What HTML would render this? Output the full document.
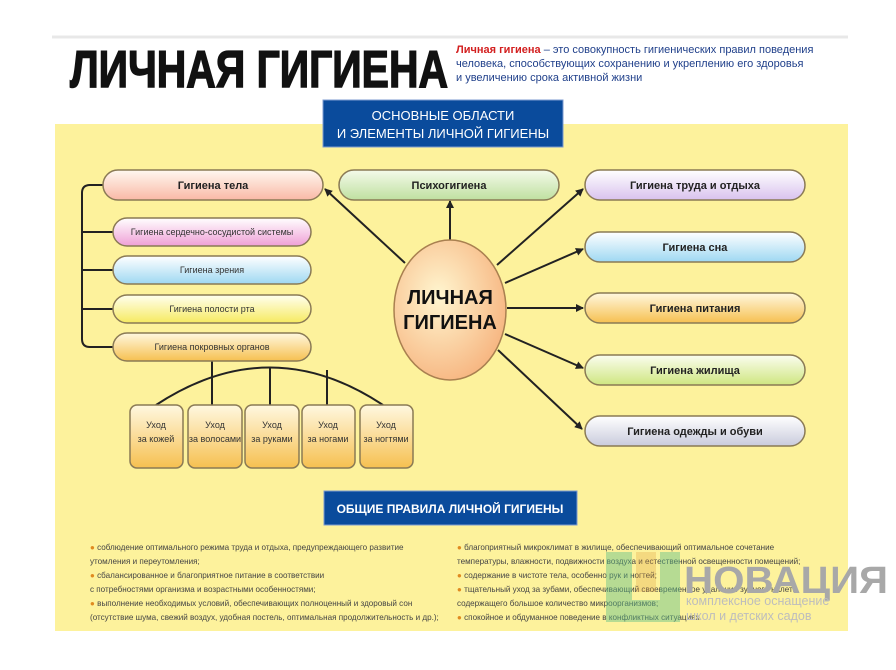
<!DOCTYPE html>
<html><head><meta charset="utf-8"><style>
html,body{margin:0;padding:0;background:#fff;}
svg text{font-family:"Liberation Sans",sans-serif;}
</style></head><body>
<svg width="896" height="665" viewBox="0 0 896 665" xmlns="http://www.w3.org/2000/svg">
<defs>
<linearGradient id="gPink" x1="0" y1="0" x2="0" y2="1"><stop offset="0" stop-color="#fff8f0"/><stop offset="1" stop-color="#f9b9a6"/></linearGradient>
<linearGradient id="gMag" x1="0" y1="0" x2="0" y2="1"><stop offset="0" stop-color="#fff"/><stop offset="1" stop-color="#ef9fd6"/></linearGradient>
<linearGradient id="gBlue" x1="0" y1="0" x2="0" y2="1"><stop offset="0" stop-color="#fff"/><stop offset="1" stop-color="#9ed8f2"/></linearGradient>
<linearGradient id="gYel" x1="0" y1="0" x2="0" y2="1"><stop offset="0" stop-color="#fffff0"/><stop offset="1" stop-color="#f6ea60"/></linearGradient>
<linearGradient id="gOr" x1="0" y1="0" x2="0" y2="1"><stop offset="0" stop-color="#fff8e0"/><stop offset="1" stop-color="#f6c050"/></linearGradient>
<linearGradient id="gGreen" x1="0" y1="0" x2="0" y2="1"><stop offset="0" stop-color="#f4faea"/><stop offset="1" stop-color="#bfe0a0"/></linearGradient>
<linearGradient id="gLime" x1="0" y1="0" x2="0" y2="1"><stop offset="0" stop-color="#fbfdf0"/><stop offset="1" stop-color="#cfe680"/></linearGradient>
<linearGradient id="gViol" x1="0" y1="0" x2="0" y2="1"><stop offset="0" stop-color="#fff"/><stop offset="1" stop-color="#d9c2ee"/></linearGradient>
<linearGradient id="gGrey" x1="0" y1="0" x2="0" y2="1"><stop offset="0" stop-color="#fff"/><stop offset="1" stop-color="#c9cbdc"/></linearGradient>
<radialGradient id="gEll" cx="0.4" cy="0.4" r="0.7"><stop offset="0" stop-color="#fff6d0"/><stop offset="1" stop-color="#f6b07a"/></radialGradient>
<marker id="ar" markerWidth="8" markerHeight="8" refX="7" refY="4" orient="auto" markerUnits="userSpaceOnUse"><path d="M0,0 L8,4 L0,8 z" fill="#222"/></marker>
</defs>
<line x1="52" y1="37" x2="848" y2="37" stroke="#e8e8e8" stroke-width="3"/>
<text x="70" y="87" font-size="52" font-weight="bold" fill="#111" stroke="#111" stroke-width="1.5" textLength="378" lengthAdjust="spacingAndGlyphs">ЛИЧНАЯ ГИГИЕНА</text>
<g font-size="11" fill="#1f3f8a">
<text x="456" y="53"><tspan fill="#d32020" font-weight="bold">Личная гигиена</tspan> – это совокупность гигиенических правил поведения</text>
<text x="456" y="67">человека, способствующих сохранению и укреплению его здоровья</text>
<text x="456" y="81">и увеличению срока активной жизни</text>
</g>
<rect x="55" y="124" width="793" height="507" fill="#fdf29c"/>
<rect x="323" y="100" width="240" height="47" fill="#0a4b9c" stroke="#7c9bd0" stroke-width="1"/>
<text x="443" y="120" font-size="13" fill="#fff" text-anchor="middle">ОСНОВНЫЕ ОБЛАСТИ</text>
<text x="443" y="138" font-size="13" fill="#fff" text-anchor="middle">И ЭЛЕМЕНТЫ ЛИЧНОЙ ГИГИЕНЫ</text>
<path d="M103,185 H90 Q82,185 82,193 V339 Q82,347 90,347 H113" fill="none" stroke="#222" stroke-width="2"/>
<g stroke="#222" stroke-width="2"><line x1="82" y1="232" x2="113" y2="232"/><line x1="82" y1="270" x2="113" y2="270"/><line x1="82" y1="309" x2="113" y2="309"/></g>
<path d="M156,405 Q270,330 383,405" fill="none" stroke="#222" stroke-width="2"/>
<g stroke="#222" stroke-width="2"><line x1="212" y1="360" x2="212" y2="405"/><line x1="270" y1="368" x2="270" y2="405"/><line x1="327" y1="370" x2="327" y2="405"/></g>
<g stroke="#222" stroke-width="2" marker-end="url(#ar)">
<line x1="405" y1="263" x2="325" y2="189"/>
<line x1="450" y1="240" x2="450" y2="201"/>
<line x1="497" y1="265" x2="583" y2="189"/>
<line x1="505" y1="283" x2="583" y2="249"/>
<line x1="507" y1="308" x2="583" y2="308"/>
<line x1="505" y1="334" x2="583" y2="368"/>
<line x1="498" y1="350" x2="582" y2="429"/>
</g>
<ellipse cx="450" cy="310" rx="56" ry="70" fill="url(#gEll)" stroke="#a98050" stroke-width="1.5"/>
<text x="450" y="304" font-size="20" font-weight="bold" fill="#111" text-anchor="middle">ЛИЧНАЯ</text>
<text x="450" y="329" font-size="20" font-weight="bold" fill="#111" text-anchor="middle">ГИГИЕНА</text>
<g stroke="#8a7a55" stroke-width="1.5">
<rect x="103" y="170" width="220" height="30" rx="15" fill="url(#gPink)"/>
<rect x="339" y="170" width="220" height="30" rx="15" fill="url(#gGreen)"/>
<rect x="585" y="170" width="220" height="30" rx="15" fill="url(#gViol)"/>
<rect x="585" y="232" width="220" height="30" rx="15" fill="url(#gBlue)"/>
<rect x="585" y="293" width="220" height="30" rx="15" fill="url(#gOr)"/>
<rect x="585" y="355" width="220" height="30" rx="15" fill="url(#gLime)"/>
<rect x="585" y="416" width="220" height="30" rx="15" fill="url(#gGrey)"/>
<rect x="113" y="218" width="198" height="28" rx="14" fill="url(#gMag)"/>
<rect x="113" y="256" width="198" height="28" rx="14" fill="url(#gBlue)"/>
<rect x="113" y="295" width="198" height="28" rx="14" fill="url(#gYel)"/>
<rect x="113" y="333" width="198" height="28" rx="14" fill="url(#gOr)"/>
<rect x="130" y="405" width="53" height="63" rx="7" fill="url(#gOr)"/>
<rect x="188" y="405" width="54" height="63" rx="7" fill="url(#gOr)"/>
<rect x="245" y="405" width="54" height="63" rx="7" fill="url(#gOr)"/>
<rect x="302" y="405" width="53" height="63" rx="7" fill="url(#gOr)"/>
<rect x="360" y="405" width="53" height="63" rx="7" fill="url(#gOr)"/>
</g>
<g font-size="11" font-weight="bold" fill="#222" text-anchor="middle">
<text x="213" y="189">Гигиена тела</text>
<text x="449" y="189">Психогигиена</text>
<text x="695" y="189">Гигиена труда и отдыха</text>
<text x="695" y="251">Гигиена сна</text>
<text x="695" y="312">Гигиена питания</text>
<text x="695" y="374">Гигиена жилища</text>
<text x="695" y="435">Гигиена одежды и обуви</text>
</g>
<g font-size="9" fill="#333" text-anchor="middle">
<text x="212" y="235">Гигиена сердечно-сосудистой системы</text>
<text x="212" y="273">Гигиена зрения</text>
<text x="212" y="312">Гигиена полости рта</text>
<text x="212" y="350">Гигиена покровных органов</text>
<text x="156" y="428">Уход</text><text x="156" y="442">за кожей</text>
<text x="215" y="428">Уход</text><text x="215" y="442">за волосами</text>
<text x="272" y="428">Уход</text><text x="272" y="442">за руками</text>
<text x="328" y="428">Уход</text><text x="328" y="442">за ногами</text>
<text x="386" y="428">Уход</text><text x="386" y="442">за ногтями</text>
</g>
<rect x="324" y="491" width="253" height="34" fill="#0a4b9c" stroke="#7c9bd0"/>
<text x="450" y="513" font-size="12" font-weight="bold" fill="#fff" text-anchor="middle">ОБЩИЕ ПРАВИЛА ЛИЧНОЙ ГИГИЕНЫ</text>
<g font-size="8.1" fill="#444">
<text x="90" y="550"><tspan fill="#e08a20">●</tspan> соблюдение оптимального режима труда и отдыха, предупреждающего развитие</text>
<text x="90" y="564">утомления и переутомления;</text>
<text x="90" y="578"><tspan fill="#e08a20">●</tspan> сбалансированное и благоприятное питание в соответствии</text>
<text x="90" y="592">с потребностями организма и возрастными особенностями;</text>
<text x="90" y="606"><tspan fill="#e08a20">●</tspan> выполнение необходимых условий, обеспечивающих полноценный и здоровый сон</text>
<text x="90" y="620">(отсутствие шума, свежий воздух, удобная постель, оптимальная продолжительность и др.);</text>
<text x="457" y="550"><tspan fill="#e08a20">●</tspan> благоприятный микроклимат в жилище, обеспечивающий оптимальное сочетание</text>
<text x="457" y="564">температуры, влажности, подвижности воздуха и естественной освещенности помещений;</text>
<text x="457" y="578"><tspan fill="#e08a20">●</tspan> содержание в чистоте тела, особенно рук и ногтей;</text>
<text x="457" y="592"><tspan fill="#e08a20">●</tspan> тщательный уход за зубами, обеспечивающий своевременное удаление зубного налета,</text>
<text x="457" y="606">содержащего большое количество микроорганизмов;</text>
<text x="457" y="620"><tspan fill="#e08a20">●</tspan> спокойное и обдуманное поведение в конфликтных ситуациях</text>
</g>
<path d="M606,552 H632 V600 H660 V552 H680 V622 H606 Z" fill="#5fbf8a" opacity="0.45"/>
<rect x="636" y="552" width="20" height="40" fill="#e0a040" opacity="0.3"/>
<text x="684" y="593" font-size="38" font-weight="bold" fill="#a8a8a8" textLength="204" lengthAdjust="spacingAndGlyphs">НОВАЦИЯ</text>
<text x="686" y="605" font-size="12.5" fill="#bdbdbd">комплексное оснащение</text>
<text x="686" y="620" font-size="12.5" fill="#bdbdbd">школ и детских садов</text>
</svg>
</body></html>
